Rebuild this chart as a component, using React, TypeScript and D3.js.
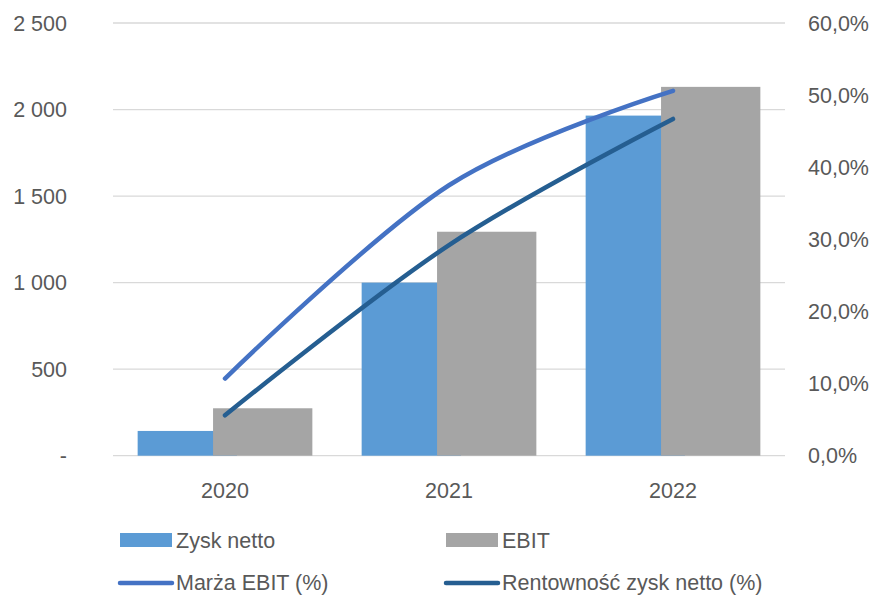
import React from "react";
import * as d3 from "d3";

const categories = ["2020", "2021", "2022"];
const zyskNetto = [143, 1000, 1965];
const ebit = [274, 1294, 2131];
const marzaEbit = [10.7, 37.5, 50.6];
const rentownosc = [5.6, 29.2, 46.7];
const leftTicks = [0, 500, 1000, 1500, 2000, 2500];
const rightTicks = [0, 10, 20, 30, 40, 50, 60];

const W = 872;
const H = 595;
const FONT = "'Liberation Sans', Arial, sans-serif";
const TXT = "#595959";

export default function App() {
  const x0 = 113, x1 = 785, yTop = 23, yBot = 455.7;
  const x = d3.scaleBand<string>().domain(categories).range([x0, x1]).padding(0);
  const yL = d3.scaleLinear().domain([0, 2500]).range([yBot, yTop]);
  const yR = d3.scaleLinear().domain([0, 60]).range([yBot, yTop]);
  const barW = 99.3;
  const groupW = 174.7;
  const center = (c: string) => (x(c) as number) + x.bandwidth() / 2;
  const fmtL = (v: number) => (v === 0 ? "-" : d3.format(",")(v).replace(/,/g, " "));
  const fmtR = (v: number) => v.toFixed(1).replace(".", ",") + "%";
  const line = d3
    .line<number>()
    .x((_, i) => center(categories[i]))
    .y((d) => yR(d))
    .curve(d3.curveCardinal.tension(0));

  return (
    <svg width={W} height={H} style={{ position: "absolute", left: 0, top: 0, background: "#fff" }} fontFamily={FONT}>
      <rect width={W} height={H} fill="#fff" />
      {leftTicks.map((t) => (
        <line key={t} x1={x0} x2={x1} y1={yL(t)} y2={yL(t)} stroke="#D9D9D9" strokeWidth={1.3} />
      ))}
      {leftTicks.map((t) => (
        <text key={"l" + t} x={67} y={yL(t)} dy="0.36em" textAnchor="end" fontSize={21.5} fill={TXT}>
          {fmtL(t)}
        </text>
      ))}
      {rightTicks.map((t) => (
        <text key={"r" + t} x={808} y={yR(t)} dy="0.36em" textAnchor="start" fontSize={21.5} fill={TXT}>
          {fmtR(t)}
        </text>
      ))}
      {categories.map((c, i) => {
        const left = center(c) - groupW / 2;
        return (
          <g key={c}>
            <rect x={left} y={yL(zyskNetto[i])} width={barW} height={yBot - yL(zyskNetto[i])} fill="#5B9BD5" />
            <rect x={left + groupW - barW} y={yL(ebit[i])} width={barW} height={yBot - yL(ebit[i])} fill="#A5A5A5" />
            <text x={center(c)} y={490} dy="0.36em" textAnchor="middle" fontSize={21.5} fill={TXT}>
              {c}
            </text>
          </g>
        );
      })}
      <path d={line(marzaEbit) || ""} fill="none" stroke="#4472C4" strokeWidth={4.5} strokeLinecap="round" />
      <path d={line(rentownosc) || ""} fill="none" stroke="#255E91" strokeWidth={4.5} strokeLinecap="round" />
      {/* legend */}
      <rect x={120} y={533} width={52} height={14} fill="#5B9BD5" />
      <text x={176} y={540} dy="0.36em" fontSize={21.5} fill={TXT}>Zysk netto</text>
      <rect x={446} y={533} width={52} height={14} fill="#A5A5A5" />
      <text x={502} y={540} dy="0.36em" fontSize={21.5} fill={TXT}>EBIT</text>
      <line x1={120} x2={172} y1={583} y2={583} stroke="#4472C4" strokeWidth={4.5} strokeLinecap="round" />
      <text x={176} y={582} dy="0.36em" fontSize={21.5} fill={TXT}>Marża EBIT (%)</text>
      <line x1={446} x2={498} y1={583} y2={583} stroke="#255E91" strokeWidth={4.5} strokeLinecap="round" />
      <text x={502} y={582} dy="0.36em" fontSize={21.5} fill={TXT}>Rentowność zysk netto (%)</text>
    </svg>
  );
}
